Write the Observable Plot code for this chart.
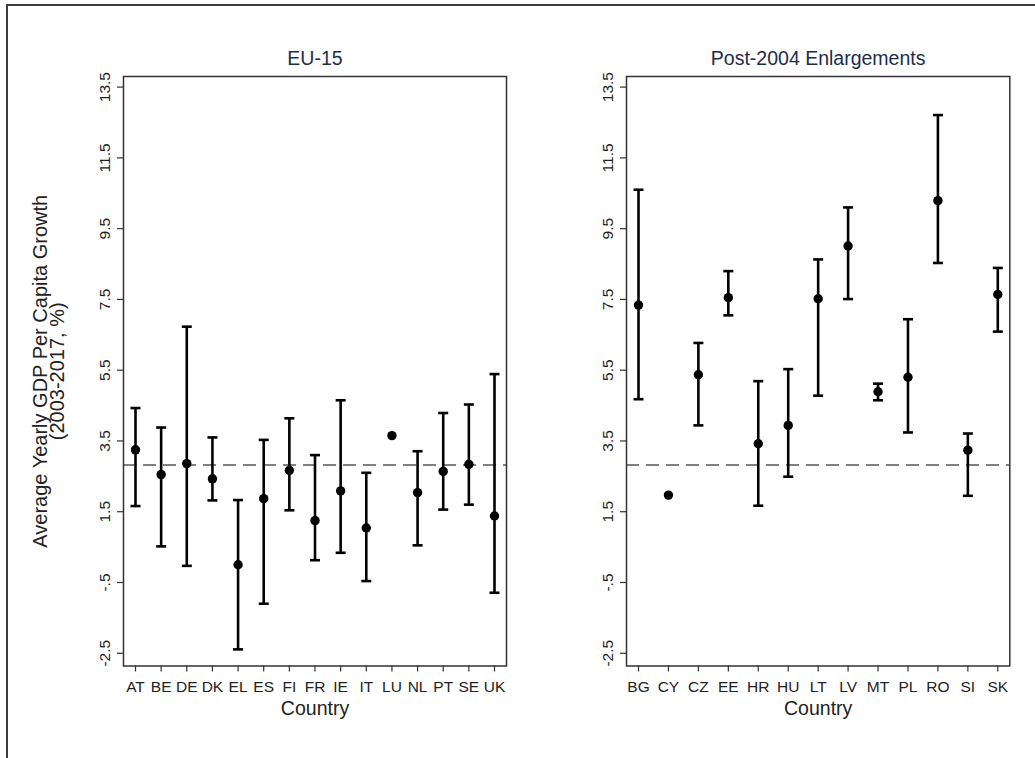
<!DOCTYPE html>
<html><head><meta charset="utf-8">
<script src="https://cdn.jsdelivr.net/npm/d3@7"></script>
<script src="https://cdn.jsdelivr.net/npm/@observablehq/plot@0.6"></script>
<style>
html,body{margin:0;padding:0;background:#fff;overflow:hidden;}
#page{position:relative;width:1035px;height:758px;overflow:hidden;background:#fff;}
#border{position:absolute;left:6px;top:4px;width:1200px;height:1000px;border:2px solid #3c3c3c;}
.panel{position:absolute;top:0;}
</style></head><body>
<div id="page"><div id="border"></div><div id="left" class="panel" style="left:0px"></div><div id="right" class="panel" style="left:520px"></div></div>
<script>
// ---- Data ----
const eu15Countries = ["AT","BE","DE","DK","EL","ES","FI","FR","IE","IT","LU","NL","PT","SE","UK"];
const eu15Mean = [3.25, 2.55, 2.86, 2.43, 0.0, 1.87, 2.67, 1.25, 2.09, 1.04, 3.65, 2.04, 2.64, 2.84, 1.38];
const eu15Low  = [1.66, 0.52, -0.03, 1.82, -2.39, -1.10, 1.54, 0.13, 0.34, -0.46, null, 0.55, 1.56, 1.70, -0.79];
const eu15High = [4.43, 3.88, 6.73, 3.60, 1.83, 3.53, 4.14, 3.10, 4.65, 2.60, null, 3.21, 4.29, 4.53, 5.39];

const newCountries = ["BG","CY","CZ","EE","HR","HU","LT","LV","MT","PL","RO","SI","SK"];
const newMean = [7.34, 1.97, 5.37, 7.55, 3.42, 3.94, 7.52, 9.01, 4.89, 5.30, 10.29, 3.24, 7.64];
const newLow  = [4.68, null, 3.94, 7.05, 1.67, 2.49, 4.78, 7.51, 4.65, 3.74, 8.53, 1.95, 6.59];
const newHigh = [10.60, null, 6.27, 8.30, 5.19, 5.53, 8.63, 10.10, 5.12, 6.94, 12.71, 3.71, 8.39];

const refLine = [2.82];
const yTicks = [13.5, 11.5, 9.5, 7.5, 5.5, 3.5, 1.5, -0.5, -2.5];
const yTickLabels = ["13.5","11.5","9.5","7.5","5.5","3.5","1.5","-.5","-2.5"];
const titles = ["EU-15", "Post-2004 Enlargements"];
const xTitle = "Country";
const yTitle = "Average Yearly GDP Per Capita Growth\n(2003-2017, %)";

const FONT = "'Liberation Sans', Arial, Helvetica, sans-serif";

// horizontal line symbol used for error-bar caps
const capSymbol = {
  draw(context, size) {
    const w = Math.sqrt(size / Math.PI);
    context.moveTo(-w, 0);
    context.lineTo(w, 0);
  }
};

function panel({countries, mean, low, high, title, width, marginLeft, marginRight, showYTitle}) {
  const rows = countries.map((c, i) => ({country: c, mean: mean[i], low: low[i], high: high[i]}));
  const bars = rows.filter(d => d.low != null && d.high != null);
  const marks = [
    Plot.ruleY(refLine, {stroke: "#808080", strokeWidth: 1.8, strokeDasharray: "13,7"}),
    Plot.ruleX(bars, {x: "country", y1: "low", y2: "high", stroke: "black", strokeWidth: 2.6}),
    Plot.dot(bars, {x: "country", y: "high", symbol: capSymbol, r: 5, fill: "none", stroke: "black", strokeWidth: 2.6}),
    Plot.dot(bars, {x: "country", y: "low", symbol: capSymbol, r: 5, fill: "none", stroke: "black", strokeWidth: 2.6}),
    Plot.dot(rows, {x: "country", y: "mean", r: 4.7, fill: "black", stroke: "none"}),
    Plot.frame({stroke: "#333", strokeWidth: 1.5}),
    Plot.axisY(yTicks, {tickSize: 6, tickRotate: -90, tickPadding: 8, fontSize: 15.5,
      tickFormat: d => yTickLabels[yTicks.indexOf(d)], label: null, stroke: "#333", strokeWidth: 1.2}),
    Plot.axisX({tickSize: 6, tickPadding: 9, fontSize: 15.5, label: null, stroke: "#333", strokeWidth: 1.2}),
    Plot.text([title], {text: d => d, frameAnchor: "top", lineAnchor: "bottom", dy: -12, fontSize: 19.5, fill: "#1e2d4a"}),
    Plot.text([xTitle], {text: d => d, frameAnchor: "bottom", lineAnchor: "top", dy: 35, fontSize: 19.5, fill: "#222"})
  ];
  if (showYTitle) {
    marks.push(Plot.text([yTitle], {text: d => d, frameAnchor: "left", textAnchor: "middle", rotate: -90, dx: -73.5,
      fontSize: 20, lineHeight: 0.86, fill: "#222"}));
  }
  const x0 = marginLeft + 12, x1 = width - marginRight - 12;
  return Plot.plot({
    width, height: 758,
    marginTop: 76, marginBottom: 92.5, marginLeft, marginRight,
    style: {fontFamily: FONT, color: "#222", background: "transparent", overflow: "visible"},
    x: {type: "point", domain: countries, range: [x0, x1], padding: 0, round: false},
    y: {domain: [-2.86, 13.8]},
    marks
  });
}

document.getElementById("left").appendChild(panel({
  countries: eu15Countries, mean: eu15Mean, low: eu15Low, high: eu15High,
  title: titles[0], width: 520, marginLeft: 123, marginRight: 14, showYTitle: true
}));
document.getElementById("right").appendChild(panel({
  countries: newCountries, mean: newMean, low: newLow, high: newHigh,
  title: titles[1], width: 515, marginLeft: 106, marginRight: 25.7, showYTitle: false
}));
</script>
</body></html>
